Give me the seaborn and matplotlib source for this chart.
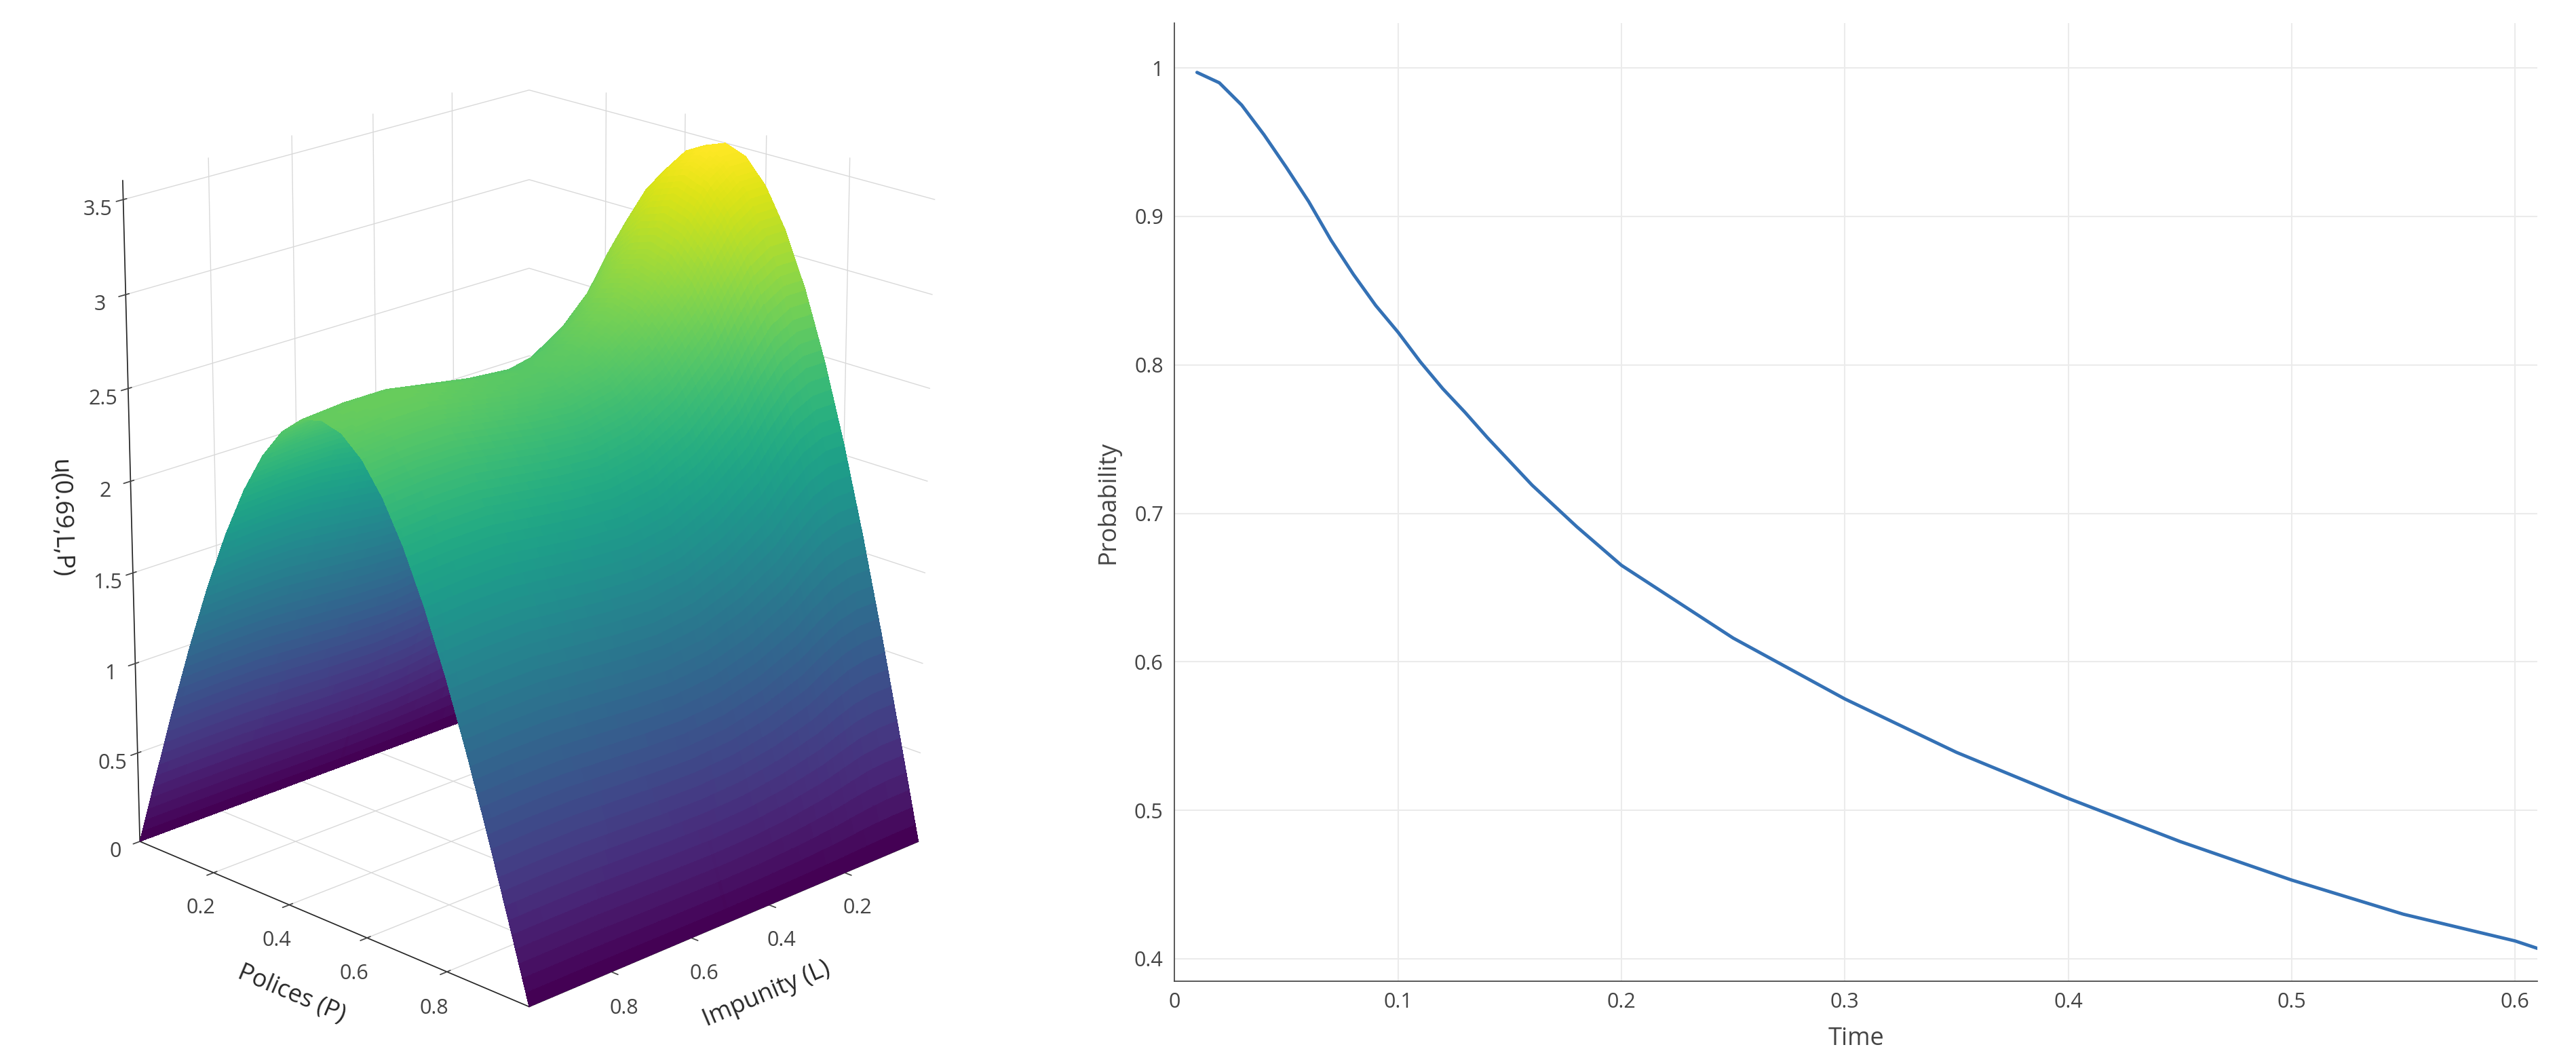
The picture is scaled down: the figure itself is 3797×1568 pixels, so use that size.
import numpy as np
import pandas as pd
import matplotlib
matplotlib.use("Agg")
import matplotlib.pyplot as plt
import seaborn as sns

# Right panel data
time = [0.01,0.02,0.03,0.04,0.05,0.06,0.07,0.08,0.09,0.10,0.11,0.12,0.13,0.14,0.15,0.16,0.17,0.18,0.19,0.20,
        0.25,0.30,0.35,0.40,0.45,0.50,0.55,0.60,0.61]
prob = [0.997,0.990,0.975,0.955,0.933,0.910,0.884,0.861,0.840,0.822,0.802,0.784,0.768,0.751,0.735,0.719,0.705,0.691,0.678,0.665,
        0.616,0.575,0.539,0.508,0.479,0.453,0.430,0.412,0.407]

# Left panel data: profiles
grid_L = np.linspace(0.0, 1.0, 121)
grid_P = np.linspace(0.0, 1.0, 121)
amp_L_pts = [0.0, 0.05, 0.1, 0.15, 0.2, 0.3, 0.4, 0.5, 0.6, 0.7, 0.8, 0.9, 1.0]
amp_L_val = [3.5, 3.5, 3.42, 3.25, 3.05, 2.8, 2.65, 2.6, 2.62, 2.66, 2.7, 2.7, 2.68]
arch_P_pts = [0.0, 0.05, 0.1, 0.15, 0.2, 0.25, 0.3, 0.35, 0.4, 0.45, 0.5, 0.55, 0.6, 0.65, 0.7, 0.75, 0.8, 0.85, 0.9, 0.95, 1.0]
arch_P_val = [0.0, 0.156, 0.309, 0.454, 0.588, 0.707, 0.809, 0.891, 0.951, 0.988, 1.0, 0.988, 0.951, 0.891, 0.809, 0.707, 0.588, 0.454, 0.309, 0.156, 0.0]

sns.set_theme(style="white")
plt.rcParams['font.family'] = ['Open Sans', 'DejaVu Sans']

fig = plt.figure(figsize=(37.97, 15.68), dpi=100)

# 3D surface
ax3 = fig.add_axes([0.0, 0.0, 0.40, 1.0], projection='3d')
amp = np.interp(grid_L, amp_L_pts, amp_L_val)
arch = np.interp(grid_P, arch_P_pts, arch_P_val)
LL, PP = np.meshgrid(grid_L, grid_P)
Z = np.outer(arch, amp)
ax3.plot_surface(LL, PP, Z, cmap='viridis', rstride=1, cstride=1, linewidth=0, antialiased=False, shade=True)
ax3.view_init(elev=20, azim=45)
ax3.set_box_aspect((1, 1, 1.25))
ax3.set_xlim(0, 1); ax3.set_ylim(0, 1); ax3.set_zlim(0, 3.6)
ax3.set_xticks([0.2, 0.4, 0.6, 0.8]); ax3.set_yticks([0.2, 0.4, 0.6, 0.8])
ax3.set_zticks([0, 0.5, 1, 1.5, 2, 2.5, 3, 3.5])
ax3.set_zticklabels(['0', '0.5', '1', '1.5', '2', '2.5', '3', '3.5'])
ax3.set_xlabel('Impunity (L)', fontsize=26, labelpad=30)
ax3.set_ylabel('Polices (P)', fontsize=26, labelpad=30)
ax3.set_zlabel('u(0.69,L,P)', fontsize=26, labelpad=30)
ax3.tick_params(labelsize=22, colors='#444444', pad=10)
for a in (ax3.xaxis, ax3.yaxis, ax3.zaxis):
    a.set_pane_color((1, 1, 1, 0))
    a._axinfo['grid']['color'] = (0.85, 0.85, 0.85, 1)

# Line plot
ax = fig.add_axes([0.456, 0.078, 0.529, 0.90])
df = pd.DataFrame({'Time': time, 'Probability': prob})
sns.lineplot(data=df, x='Time', y='Probability', ax=ax, color='#3471b5', linewidth=3.5)
ax.set_xlim(0, 0.61)
ax.set_ylim(0.385, 1.03)
ax.set_xticks([0, 0.1, 0.2, 0.3, 0.4, 0.5, 0.6])
ax.set_xticklabels(['0', '0.1', '0.2', '0.3', '0.4', '0.5', '0.6'])
ax.set_yticks([0.4, 0.5, 0.6, 0.7, 0.8, 0.9, 1.0])
ax.set_yticklabels(['0.4', '0.5', '0.6', '0.7', '0.8', '0.9', '1'])
ax.grid(True, color='#ebebeb', linewidth=1.5)
for s in ['top', 'right']:
    ax.spines[s].set_visible(False)
ax.spines['left'].set_color('#444444'); ax.spines['bottom'].set_color('#444444')
ax.tick_params(labelsize=22, colors='#444444', length=0, pad=12)
ax.set_xlabel('Time', fontsize=26, color='#444444', labelpad=15)
ax.set_ylabel('Probability', fontsize=26, color='#444444', labelpad=15)

fig.savefig('out.png', dpi=100)
